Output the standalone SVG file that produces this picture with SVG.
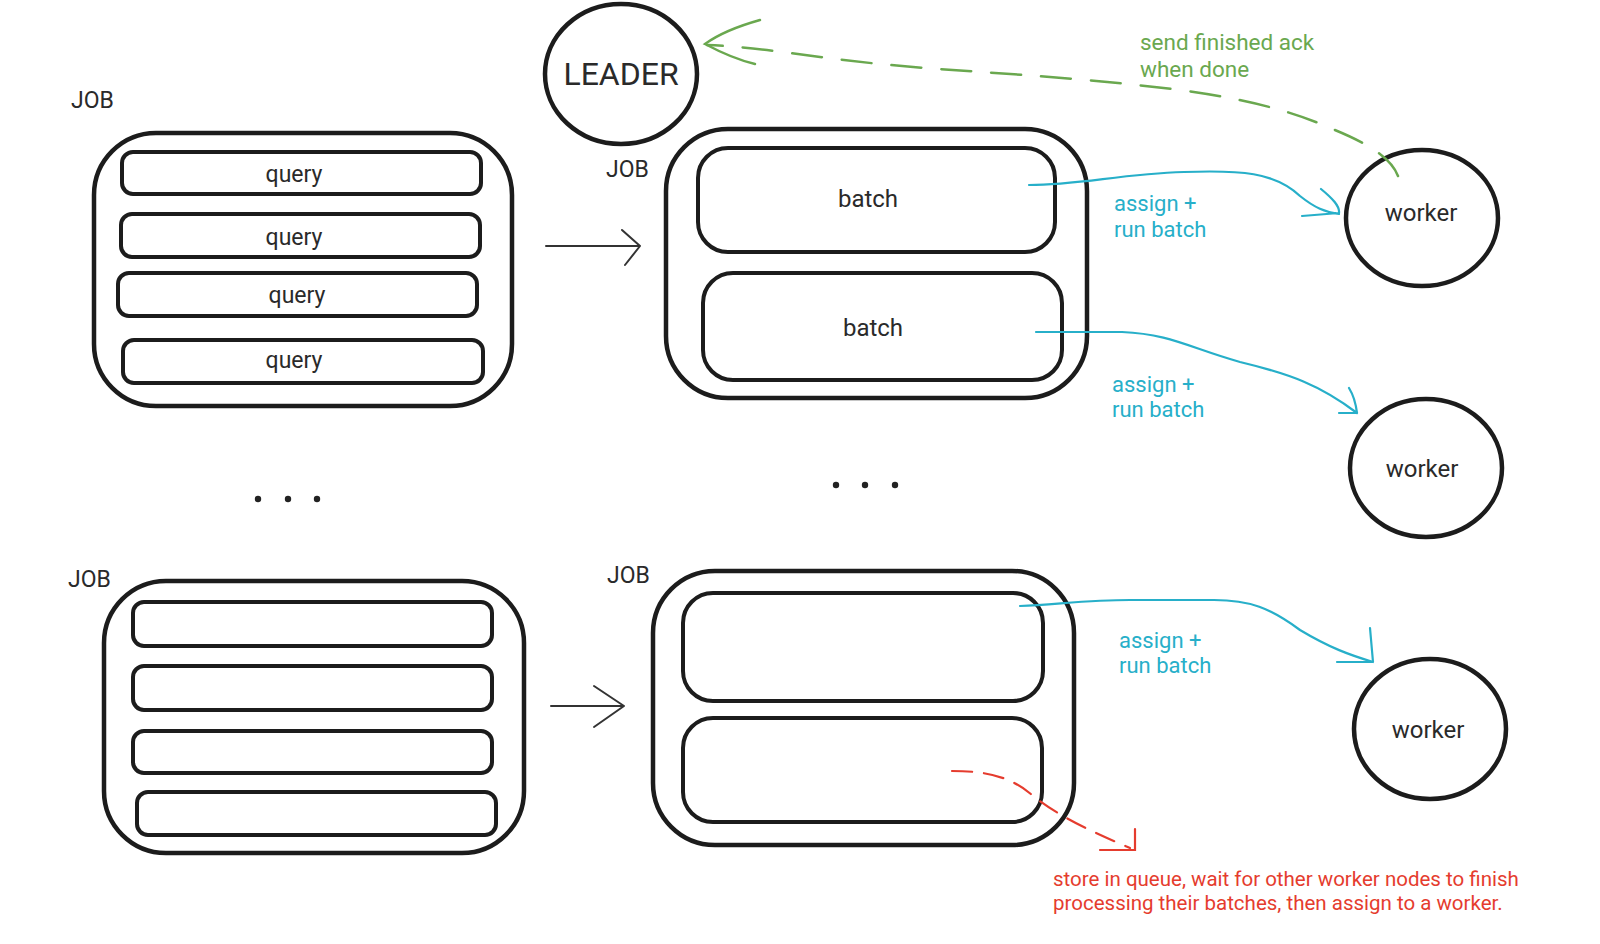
<svg xmlns="http://www.w3.org/2000/svg" width="1600" height="944" viewBox="0 0 1600 944">
<style>
.box{fill:none;stroke:#1c1c1c;stroke-width:4.5}
.bar{fill:#fff;stroke:#1c1c1c;stroke-width:4}
.t{font-family:Roboto,"Liberation Sans",sans-serif;fill:#2a2a2a;text-anchor:middle;dominant-baseline:central}
.lbl{font-family:Roboto,"Liberation Sans",sans-serif;fill:#2a2a2a;font-size:23px}
.blue{fill:none;stroke:#27afc9;stroke-width:2.2;stroke-linecap:round;stroke-linejoin:round}
.bt{font-family:Roboto,"Liberation Sans",sans-serif;fill:#27afc9;font-size:22px}
.green{fill:none;stroke:#6aa84f;stroke-width:2.5;stroke-linecap:round}
.red{fill:none;stroke:#e53c2e;stroke-width:2.2;stroke-linecap:round}
.blk{fill:none;stroke:#333;stroke-width:2;stroke-linecap:round;stroke-linejoin:round}
</style>
<rect width="1600" height="944" fill="#fff"/>

<g id="leader">
<ellipse cx="621" cy="74" rx="76" ry="70" class="box"/>
<text x="621" y="74" class="t" font-size="32">LEADER</text>
</g>

<g id="job1">
<text x="71" y="108" class="lbl">JOB</text>
<rect x="94" y="133" width="418" height="273" rx="62" class="box"/>
<rect x="122" y="152" width="359" height="42" rx="11" class="bar"/>
<text x="294" y="174" class="t" font-size="23">query</text>
<rect x="121" y="214" width="359" height="43" rx="11" class="bar"/>
<text x="294" y="237" class="t" font-size="23">query</text>
<rect x="118" y="273" width="359" height="43" rx="11" class="bar"/>
<text x="297" y="295" class="t" font-size="23">query</text>
<rect x="123" y="340" width="360" height="43" rx="11" class="bar"/>
<text x="294" y="360" class="t" font-size="23">query</text>
</g>

<g id="job2">
<text x="606" y="177" class="lbl">JOB</text>
<rect x="666" y="129" width="421" height="269" rx="62" class="box"/>
<rect x="698" y="148" width="357" height="104" rx="30" class="bar"/>
<text x="868" y="199" class="t" font-size="24">batch</text>
<rect x="703" y="273" width="359" height="107" rx="30" class="bar"/>
<text x="873" y="328" class="t" font-size="24">batch</text>
</g>

<g id="job3">
<text x="68" y="587" class="lbl">JOB</text>
<rect x="104" y="581" width="420" height="272" rx="62" class="box"/>
<rect x="133" y="602" width="359" height="44" rx="11" class="bar"/>
<rect x="133" y="666" width="359" height="44" rx="11" class="bar"/>
<rect x="133" y="731" width="359" height="42" rx="11" class="bar"/>
<rect x="137" y="792" width="359" height="43" rx="11" class="bar"/>
</g>

<g id="job4">
<text x="607" y="583" class="lbl">JOB</text>
<rect x="653" y="571" width="421" height="274" rx="62" class="box"/>
<rect x="683" y="593" width="360" height="108" rx="30" class="bar"/>
<rect x="683" y="718" width="359" height="104" rx="30" class="bar"/>
</g>

<g id="worker1">
<ellipse cx="1422" cy="218" rx="76" ry="68" class="box"/>
<text x="1421" y="213" class="t" font-size="24">worker</text>
</g>
<g id="worker2">
<ellipse cx="1426" cy="468" rx="76" ry="69" class="box"/>
<text x="1422" y="469" class="t" font-size="24">worker</text>
</g>
<g id="worker3">
<ellipse cx="1430" cy="729" rx="76" ry="70" class="box"/>
<text x="1428" y="730" class="t" font-size="24">worker</text>
</g>

<g id="dots" fill="#222">
<circle cx="258" cy="499" r="3.2"/><circle cx="288" cy="499" r="3.2"/><circle cx="317" cy="499" r="3.2"/>
<circle cx="836" cy="485" r="3.2"/><circle cx="865" cy="485" r="3.2"/><circle cx="895" cy="485" r="3.2"/>
</g>

<g id="connectors">
<path class="blk" d="M546 246 L640 246 M622 230 L640 246 L625 265"/>
<path class="blk" d="M551 706 L624 706 M594 686 L624 706 L594 727"/>

<path class="blue" d="M1029 185 C1080 185 1120 174 1184 172 C1240 170 1275 172 1300 196 C1315 208 1325 212 1339 214 M1321 189 C1332 198 1340 206 1339 213 L1302 216"/>
<text x="1114" y="211" class="bt">assign +</text>
<text x="1114" y="237" class="bt">run batch</text>

<path class="blue" d="M1036 332 L1122 332 C1170 334 1190 348 1240 362 C1290 374 1320 385 1357 413 M1349 388 C1354 396 1356 405 1357 413 L1339 413"/>
<text x="1112" y="392" class="bt">assign +</text>
<text x="1112" y="417" class="bt">run batch</text>

<path class="blue" d="M1020 606 C1060 604 1090 600 1130 600 L1214 600 C1250 600 1270 608 1300 630 C1330 648 1350 655 1373 662 M1370 628 L1373 662 L1337 662"/>
<text x="1119" y="648" class="bt">assign +</text>
<text x="1119" y="673" class="bt">run batch</text>

<path class="green" stroke-dasharray="30,20" d="M1398 176 C1390 155 1360 140 1330 128 C1290 110 1240 98 1180 90 C1060 75 960 72 880 64 C810 57 760 47 707 45"/>
<path class="green" d="M760 20 C735 27 716 36 705 44 C720 52 738 60 755 64"/>
<text x="1140" y="50" class="bt" style="fill:#6aa84f;font-size:22.5px">send finished ack</text>
<text x="1140" y="77" class="bt" style="fill:#6aa84f;font-size:22.5px">when done</text>

<path class="red" stroke-dasharray="20,12" d="M952 771 C985 771 1010 776 1032 795 C1060 818 1100 835 1130 848"/>
<path class="red" d="M1135 829 L1135 850 L1100 850"/>
<text x="1053" y="886" class="bt" style="fill:#e53c2e;font-size:20.5px">store in queue, wait for other worker nodes to finish</text>
<text x="1053" y="910" class="bt" style="fill:#e53c2e;font-size:20.5px">processing their batches, then assign to a worker.</text>
</g>
</svg>
